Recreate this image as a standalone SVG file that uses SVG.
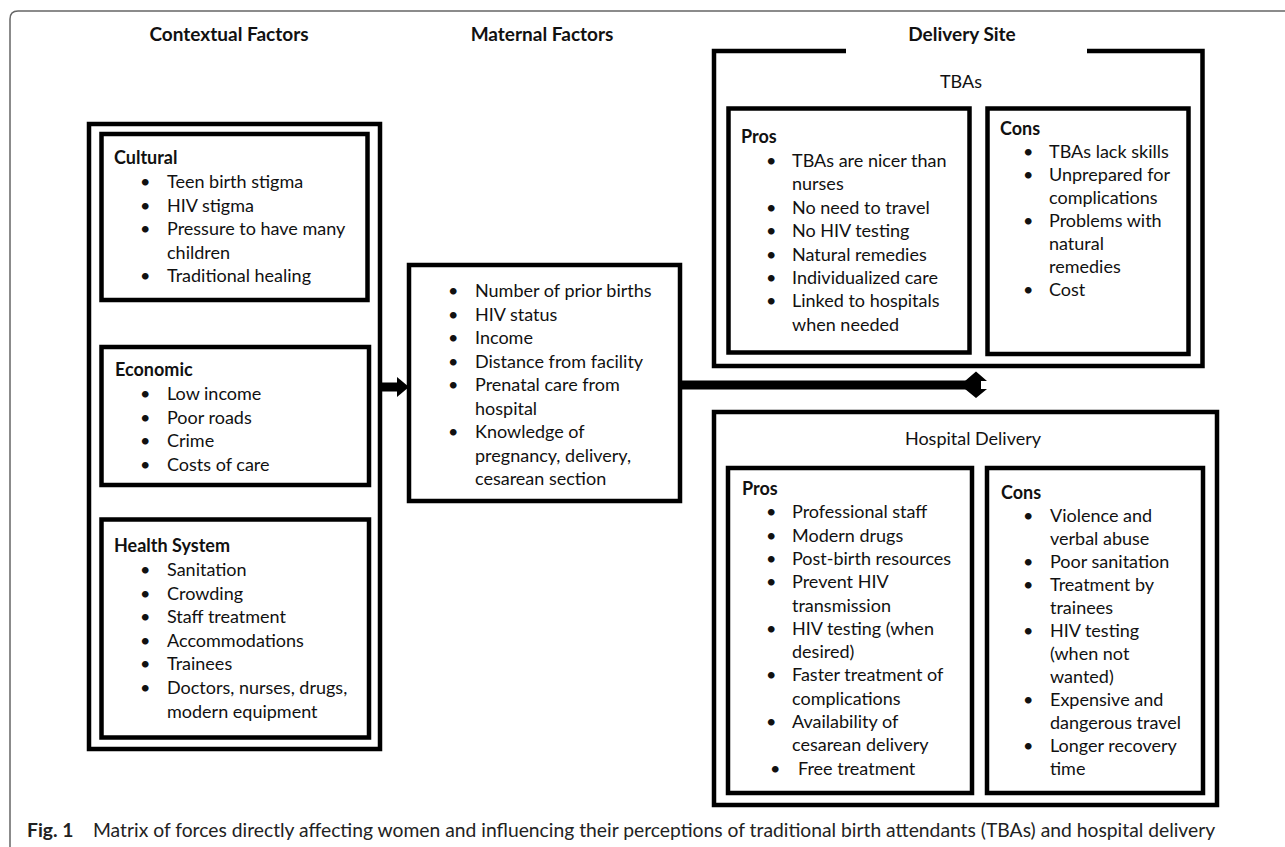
<svg xmlns="http://www.w3.org/2000/svg" width="1285" height="847" viewBox="0 0 1285 847">
<style>
.t{font-family:Lato,"Liberation Sans",sans-serif;font-size:18px;fill:#111}
.h{font-family:Lato,"Liberation Sans",sans-serif;font-size:18px;font-weight:bold;fill:#111}
.top{font-family:Lato,"Liberation Sans",sans-serif;font-size:19px;font-weight:bold;fill:#111;text-anchor:middle}
.ctr{text-anchor:middle}
.box{fill:#fff;stroke:#000;stroke-width:4.5}
.frm{fill:none;stroke:#000;stroke-width:4.5}
.cap{font-family:Lato,"Liberation Sans",sans-serif;font-size:19.3px;fill:#222}
</style>
<rect width="1285" height="847" fill="#fff"/>
<path d="M10,847 V19 Q10,11 18,11 H1285" fill="none" stroke="#666" stroke-width="1.5"/>

<g id="headers">
<text class="top" x="229" y="41">Contextual Factors</text>
<text class="top" x="542" y="41">Maternal Factors</text>
<text class="top" x="962" y="41">Delivery Site</text>
</g>

<g id="contextual">
<rect class="frm" x="89" y="124" width="291" height="625"/>
<g id="cultural">
<rect class="box" x="101.5" y="134" width="266" height="166"/>
<text class="h" x="114" y="164">Cultural</text>
<text class="t" x="140" y="188">•</text><text class="t" x="167" y="188">Teen birth stigma</text>
<text class="t" x="140" y="211.5">•</text><text class="t" x="167" y="211.5">HIV stigma</text>
<text class="t" x="140" y="235">•</text><text class="t" x="167" y="235">Pressure to have many</text>
<text class="t" x="167" y="258.5">children</text>
<text class="t" x="140" y="282">•</text><text class="t" x="167" y="282">Traditional healing</text>
</g>
<g id="economic">
<rect class="box" x="101.5" y="347" width="267.5" height="138"/>
<text class="h" x="115" y="376">Economic</text>
<text class="t" x="140" y="400">•</text><text class="t" x="167" y="400">Low income</text>
<text class="t" x="140" y="423.5">•</text><text class="t" x="167" y="423.5">Poor roads</text>
<text class="t" x="140" y="447">•</text><text class="t" x="167" y="447">Crime</text>
<text class="t" x="140" y="471">•</text><text class="t" x="167" y="471">Costs of care</text>
</g>
<g id="health">
<rect class="box" x="101.5" y="519.5" width="267.5" height="218"/>
<text class="h" x="114" y="552">Health System</text>
<text class="t" x="140" y="576">•</text><text class="t" x="167" y="576">Sanitation</text>
<text class="t" x="140" y="599.5">•</text><text class="t" x="167" y="599.5">Crowding</text>
<text class="t" x="140" y="623">•</text><text class="t" x="167" y="623">Staff treatment</text>
<text class="t" x="140" y="646.5">•</text><text class="t" x="167" y="646.5">Accommodations</text>
<text class="t" x="140" y="670">•</text><text class="t" x="167" y="670">Trainees</text>
<text class="t" x="140" y="694">•</text><text class="t" x="167" y="694">Doctors, nurses, drugs,</text>
<text class="t" x="167" y="717.5">modern equipment</text>
</g>
</g>

<g id="maternal">
<rect class="box" x="409" y="265" width="271" height="236"/>
<text class="t" x="448" y="297">•</text><text class="t" x="475" y="297">Number of prior births</text>
<text class="t" x="448" y="320.5">•</text><text class="t" x="475" y="320.5">HIV status</text>
<text class="t" x="448" y="344">•</text><text class="t" x="475" y="344">Income</text>
<text class="t" x="448" y="367.5">•</text><text class="t" x="475" y="367.5">Distance from facility</text>
<text class="t" x="448" y="391">•</text><text class="t" x="475" y="391">Prenatal care from</text>
<text class="t" x="475" y="414.5">hospital</text>
<text class="t" x="448" y="438">•</text><text class="t" x="475" y="438">Knowledge of</text>
<text class="t" x="475" y="461.5">pregnancy, delivery,</text>
<text class="t" x="475" y="485">cesarean section</text>
</g>

<g id="tbas">
<path class="frm" d="M846,51 H714 V366 H1202.5 V51 H1087"/>
<text class="t ctr" x="961" y="88">TBAs</text>
<g id="tba-pros">
<rect class="box" x="728.5" y="108.5" width="241" height="244"/>
<text class="h" x="741" y="143">Pros</text>
<text class="t" x="766" y="167">•</text><text class="t" x="792" y="167">TBAs are nicer than</text>
<text class="t" x="792" y="190.4">nurses</text>
<text class="t" x="766" y="213.8">•</text><text class="t" x="792" y="213.8">No need to travel</text>
<text class="t" x="766" y="237.2">•</text><text class="t" x="792" y="237.2">No HIV testing</text>
<text class="t" x="766" y="260.6">•</text><text class="t" x="792" y="260.6">Natural remedies</text>
<text class="t" x="766" y="284">•</text><text class="t" x="792" y="284">Individualized care</text>
<text class="t" x="766" y="307.4">•</text><text class="t" x="792" y="307.4">Linked to hospitals</text>
<text class="t" x="792" y="330.8">when needed</text>
</g>
<g id="tba-cons">
<rect class="box" x="987.5" y="108.5" width="201" height="245.5"/>
<text class="h" x="1000" y="135">Cons</text>
<text class="t" x="1023" y="158.3">•</text><text class="t" x="1049" y="158.3">TBAs lack skills</text>
<text class="t" x="1023" y="181.3">•</text><text class="t" x="1049" y="181.3">Unprepared for</text>
<text class="t" x="1049" y="204.3">complications</text>
<text class="t" x="1023" y="227.3">•</text><text class="t" x="1049" y="227.3">Problems with</text>
<text class="t" x="1049" y="250.3">natural</text>
<text class="t" x="1049" y="273.3">remedies</text>
<text class="t" x="1023" y="296.3">•</text><text class="t" x="1049" y="296.3">Cost</text>
</g>
</g>

<g id="hospital">
<rect class="frm" x="714" y="412" width="503" height="393"/>
<text class="t ctr" x="973" y="445">Hospital Delivery</text>
<g id="hosp-pros">
<rect class="box" x="728" y="468" width="244" height="325"/>
<text class="h" x="742" y="495">Pros</text>
<text class="t" x="766" y="518.3">•</text><text class="t" x="792" y="518.3">Professional staff</text>
<text class="t" x="766" y="541.6">•</text><text class="t" x="792" y="541.6">Modern drugs</text>
<text class="t" x="766" y="564.9">•</text><text class="t" x="792" y="564.9">Post-birth resources</text>
<text class="t" x="766" y="588.2">•</text><text class="t" x="792" y="588.2">Prevent HIV</text>
<text class="t" x="792" y="611.5">transmission</text>
<text class="t" x="766" y="634.8">•</text><text class="t" x="792" y="634.8">HIV testing (when</text>
<text class="t" x="792" y="658.1">desired)</text>
<text class="t" x="766" y="681.4">•</text><text class="t" x="792" y="681.4">Faster treatment of</text>
<text class="t" x="792" y="704.7">complications</text>
<text class="t" x="766" y="728">•</text><text class="t" x="792" y="728">Availability of</text>
<text class="t" x="792" y="751.3">cesarean delivery</text>
<text class="t" x="770" y="774.6">•</text><text class="t" x="798" y="774.6">Free treatment</text>
</g>
<g id="hosp-cons">
<rect class="box" x="987" y="468" width="216" height="325"/>
<text class="h" x="1001" y="498.5">Cons</text>
<text class="t" x="1023" y="521.7">•</text><text class="t" x="1050" y="521.7">Violence and</text>
<text class="t" x="1050" y="544.7">verbal abuse</text>
<text class="t" x="1023" y="567.8">•</text><text class="t" x="1050" y="567.8">Poor sanitation</text>
<text class="t" x="1023" y="590.8">•</text><text class="t" x="1050" y="590.8">Treatment by</text>
<text class="t" x="1050" y="613.8">trainees</text>
<text class="t" x="1023" y="636.9">•</text><text class="t" x="1050" y="636.9">HIV testing</text>
<text class="t" x="1050" y="659.9">(when not</text>
<text class="t" x="1050" y="682.9">wanted)</text>
<text class="t" x="1023" y="705.9">•</text><text class="t" x="1050" y="705.9">Expensive and</text>
<text class="t" x="1050" y="729">dangerous travel</text>
<text class="t" x="1023" y="752">•</text><text class="t" x="1050" y="752">Longer recovery</text>
<text class="t" x="1050" y="775">time</text>
</g>
</g>

<g id="connectors" fill="#000">
<rect x="382" y="382.5" width="16" height="9"/>
<polygon points="397,377 409,387 397,397"/>
<rect x="682" y="380.5" width="294" height="9"/>
<polygon points="965,381 976,371.5 987,381 981,381 981,389 987,389 976,398 965,389 971,389 971,381"/>
</g>

<g id="caption">
<text class="cap" x="27" y="837" font-weight="bold" font-size="20.5">Fig. 1</text>
<text class="cap" x="93" y="837">Matrix of forces directly affecting women and influencing their perceptions of traditional birth attendants (TBAs) and hospital delivery</text>
</g>
</svg>
